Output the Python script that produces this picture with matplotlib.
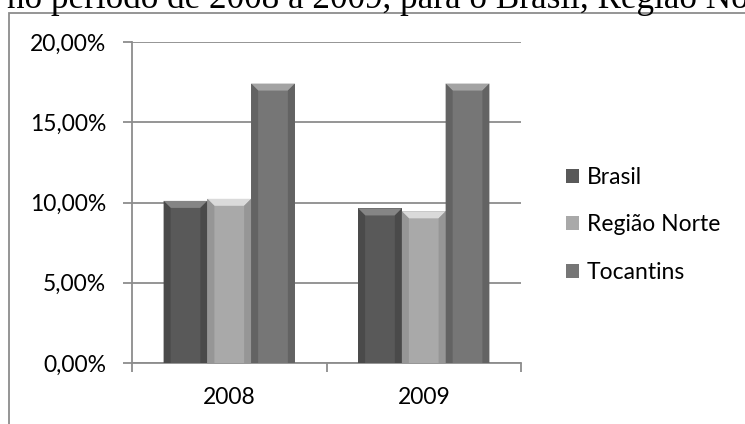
import matplotlib.pyplot as plt
import matplotlib.patches as mpatches
from matplotlib.ticker import FuncFormatter
import numpy as np

anos = ["2008", "2009"]
series = ["Brasil", "Região Norte", "Tocantins"]
brasil = [0.1010, 0.0963]
regiao_norte = [0.1023, 0.0945]
tocantins = [0.1741, 0.1741]

# cor do corpo, cor do chanfro superior, cor das bordas laterais
cores = {
    "Brasil": ("#595959", "#858585", "#4a4a4a"),
    "Região Norte": ("#a9a9a9", "#dadada", "#969696"),
    "Tocantins": ("#767676", "#a3a3a3", "#636363"),
}

plt.rcParams["font.family"] = ["Lato", "DejaVu Sans"]

fig = plt.figure(figsize=(7.45, 4.24), dpi=100)

# trecho do texto do documento acima do gráfico
fig.text(7 / 745, 1.0 - 8 / 424, "no período de 2008 a 2009, para o Brasil, Região Norte",
         family=["Liberation Serif"], fontsize=25.3, va="baseline", ha="left", color="black")

# moldura do gráfico
fig.patches.append(mpatches.Rectangle((9 / 745, -0.1), 1.2, 1 - 13 / 424 + 0.1,
                                      transform=fig.transFigure, fill=False,
                                      edgecolor="#8c8c8c", lw=1.3))

ax = fig.add_axes([132 / 745, 61 / 424, 389 / 745, 321 / 424])

x = np.arange(len(anos))
largura = 0.225
valores = [brasil, regiao_norte, tocantins]
ylim = 0.20
dy = ylim / 321 * 7      # altura do chanfro (~7 px)
dx = 7 / 194             # largura do chanfro

for i, (nome, vals) in enumerate(zip(series, valores)):
    corpo, topo, lado = cores[nome]
    pos = x + (i - 1) * largura
    bars = ax.bar(pos, vals, largura, color=corpo, label=nome, zorder=3, linewidth=0)
    for b in bars:
        x0, x1 = b.get_x(), b.get_x() + b.get_width()
        h = b.get_height()
        ax.add_patch(mpatches.Polygon([(x0, h), (x1, h), (x1 - dx, h - dy), (x0 + dx, h - dy)],
                                      closed=True, facecolor=topo, edgecolor="none", zorder=4))
        ax.add_patch(mpatches.Polygon([(x0, 0), (x0, h), (x0 + dx, h - dy), (x0 + dx, 0)],
                                      closed=True, facecolor=lado, edgecolor="none", zorder=4))
        ax.add_patch(mpatches.Polygon([(x1, 0), (x1, h), (x1 - dx, h - dy), (x1 - dx, 0)],
                                      closed=True, facecolor=lado, edgecolor="none", zorder=4))

ax.set_xlim(-0.5, len(anos) - 0.5)
ax.set_ylim(0, ylim)
ax.set_yticks(np.arange(0, 0.2001, 0.05))
ax.yaxis.set_major_formatter(FuncFormatter(lambda v, p: f"{v * 100:.2f}%".replace(".", ",")))
ax.set_xticks(x)
ax.set_xticklabels(anos)
ax.set_xticks([-0.5, 0.5, 1.5], minor=True)
ax.tick_params(axis="x", which="major", length=0, pad=17, labelsize=16.5)
ax.tick_params(axis="x", which="minor", length=6.5, width=1.3, color="#8c8c8c", direction="out")
ax.tick_params(axis="y", length=6.5, width=1.3, color="#8c8c8c", pad=12, labelsize=16.5)

ax.grid(axis="y", color="#8c8c8c", lw=1.3, zorder=0)
for s in ["top", "right"]:
    ax.spines[s].set_visible(False)
for s in ["left", "bottom"]:
    ax.spines[s].set_color("#8c8c8c")
    ax.spines[s].set_linewidth(1.3)

ax.legend(loc="center left", bbox_to_anchor=(1.062, 0.43), frameon=False, fontsize=16.5,
          handlelength=0.57, handleheight=0.57, handletextpad=0.35, labelspacing=1.15)

fig.savefig("out.png", dpi=100)
